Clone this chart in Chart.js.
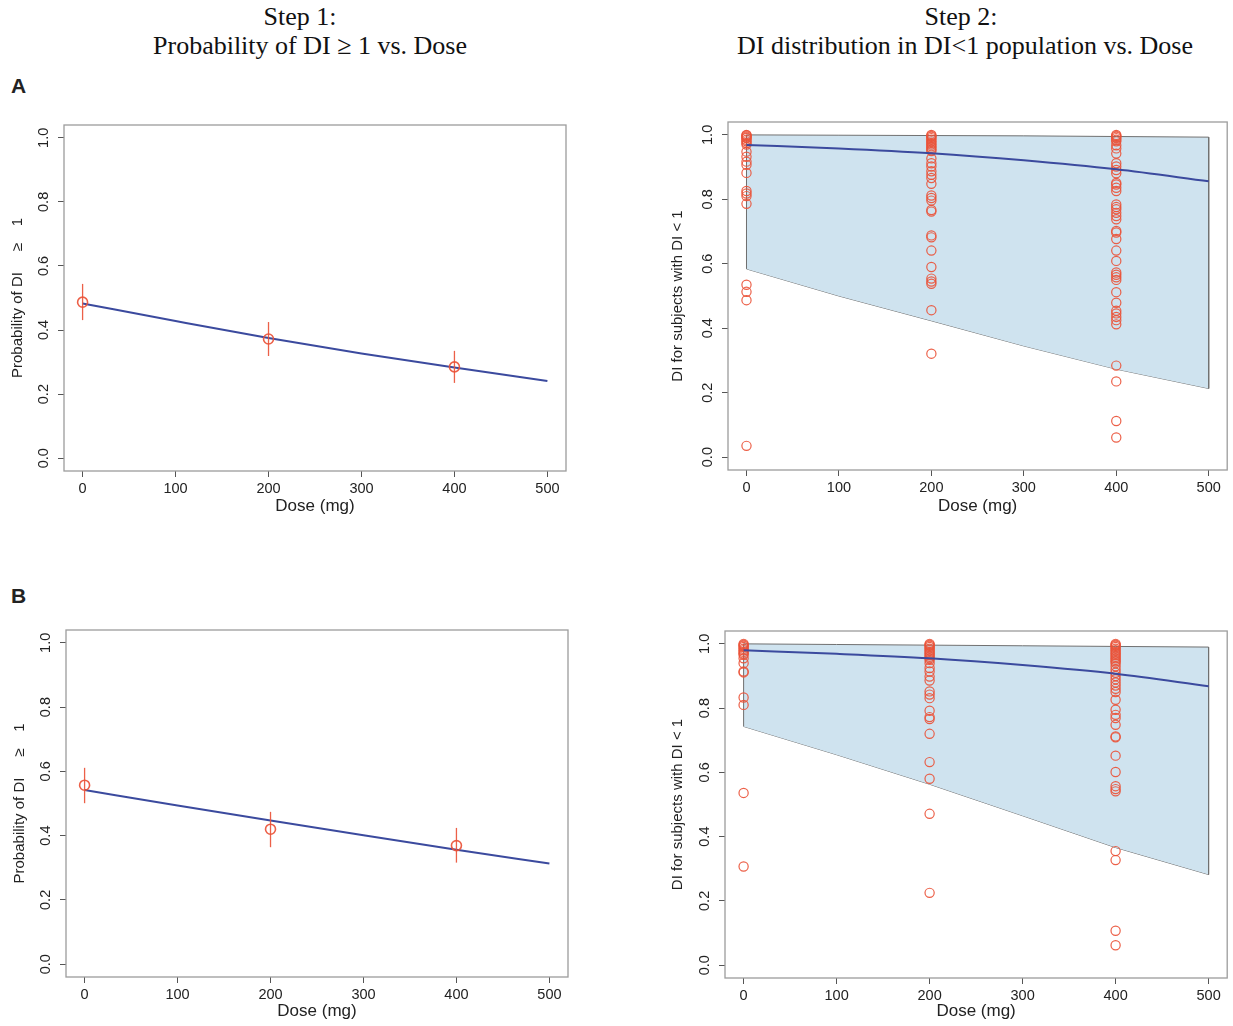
<!DOCTYPE html>
<html>
<head>
<meta charset="utf-8">
<script src="https://cdn.jsdelivr.net/npm/chart.js@4/dist/chart.umd.min.js"></script>
<style>
body { margin: 0; background: #fff; width: 1233px; height: 1026px; position: relative; overflow: hidden; }
.panel { position: absolute; }
.ttl { position: absolute; font-family: 'Liberation Serif', 'Times New Roman', serif; font-size: 26px; color: #111;
       white-space: nowrap; transform: translateX(-50%); line-height: 30px; }
.lab { position: absolute; font-family: 'Liberation Sans', Arial, sans-serif; font-weight: bold; font-size: 21px; color: #222; }
</style>
</head>
<body>
<div class="ttl" style="left:300px;top:2px">Step 1:</div>
<div class="ttl" style="left:310px;top:31px">Probability of DI ≥ 1 vs. Dose</div>
<div class="ttl" style="left:961px;top:2px">Step 2:</div>
<div class="ttl" style="left:965px;top:31px">DI distribution in DI&lt;1 population vs. Dose</div>
<div class="lab" style="left:11px;top:74px">A</div>
<div class="lab" style="left:11px;top:584px">B</div>

<div class="panel" style="left:0px;top:110px"><canvas id="stepA1" width="590" height="410"></canvas></div>
<div class="panel" style="left:660px;top:110px"><canvas id="stepA2" width="573" height="410"></canvas></div>
<div class="panel" style="left:0px;top:615px"><canvas id="stepB1" width="590" height="410"></canvas></div>
<div class="panel" style="left:660px;top:615px"><canvas id="stepB2" width="573" height="410"></canvas></div>

<script>
// ---- datos ----
const doseTicks = [0, 100, 200, 300, 400, 500];
const yTicks = [0, 0.2, 0.4, 0.6, 0.8, 1.0];
const doses = [0, 200, 400];
const curveDoses = [0, 100, 200, 300, 400, 500];

// Panel A, step 1
const probA = [0.487, 0.372, 0.285];
const probLoA = [0.431, 0.319, 0.235];
const probHiA = [0.544, 0.425, 0.335];
const fitA = [0.483, 0.428, 0.375, 0.327, 0.283, 0.241];

// Panel B, step 1
const probB = [0.557, 0.420, 0.369];
const probLoB = [0.501, 0.364, 0.316];
const probHiB = [0.611, 0.474, 0.424];
const fitB = [0.542, 0.494, 0.447, 0.401, 0.356, 0.313];

// Panel A, step 2
const bandUpA = [1.0, 0.999, 0.998, 0.997, 0.995, 0.993];
const bandLoA = [0.584, 0.500, 0.423, 0.345, 0.273, 0.213];
const midA = [0.969, 0.958, 0.943, 0.921, 0.893, 0.856];
const diA0 = [1.0, 0.998, 0.995, 0.992, 0.99, 0.985, 0.98, 0.975, 0.97, 0.948, 0.932, 0.917, 0.907, 0.882,
              0.826, 0.818, 0.810, 0.786, 0.535, 0.513, 0.487, 0.035];
const diA200 = [1.0, 0.997, 0.994, 0.99, 0.985, 0.98, 0.975, 0.97, 0.965, 0.96, 0.955, 0.95, 0.927, 0.912,
                0.902, 0.887, 0.876, 0.866, 0.848, 0.812, 0.804, 0.796, 0.767, 0.762, 0.688, 0.682, 0.641,
                0.590, 0.554, 0.545, 0.538, 0.456, 0.321];
const diA400 = [1.0, 0.997, 0.994, 0.99, 0.985, 0.98, 0.968, 0.958, 0.942, 0.912, 0.902, 0.891, 0.881, 0.851,
                0.846, 0.836, 0.826, 0.784, 0.776, 0.769, 0.758, 0.748, 0.738, 0.702, 0.697, 0.677, 0.641,
                0.609, 0.573, 0.566, 0.558, 0.550, 0.512, 0.479, 0.454, 0.446, 0.435, 0.425, 0.412, 0.284,
                0.235, 0.112, 0.061];

// Panel B, step 2
const bandUpB = [1.0, 0.998, 0.996, 0.994, 0.992, 0.990];
const bandLoB = [0.743, 0.655, 0.563, 0.465, 0.366, 0.282];
const midB = [0.980, 0.969, 0.955, 0.934, 0.907, 0.868];
const diB0 = [1.0, 0.997, 0.994, 0.99, 0.985, 0.98, 0.975, 0.97, 0.966, 0.955, 0.94, 0.914, 0.911, 0.833,
              0.810, 0.536, 0.307];
const diB200 = [1.0, 0.997, 0.994, 0.99, 0.985, 0.98, 0.975, 0.97, 0.965, 0.96, 0.955, 0.95, 0.94, 0.925,
                0.914, 0.898, 0.886, 0.852, 0.842, 0.831, 0.792, 0.772, 0.766, 0.720, 0.632, 0.580, 0.471, 0.225];
const diB400 = [1.0, 0.997, 0.994, 0.99, 0.985, 0.98, 0.975, 0.97, 0.965, 0.96, 0.955, 0.95, 0.945, 0.94,
                0.93, 0.92, 0.91, 0.90, 0.89, 0.88, 0.87, 0.86, 0.85, 0.826, 0.795, 0.779, 0.769, 0.748,
                0.712, 0.709, 0.652, 0.601, 0.557, 0.548, 0.541, 0.355, 0.327, 0.107, 0.062];

// ---- estilos ----
const RED = 'rgba(234, 82, 56, 0.92)';
const BLUE = '#3b4a9e';
const BAND = 'rgb(207, 227, 239)';
const BAND_EDGE = '#707070';
const FONT = "'Liberation Sans', Arial, sans-serif";
const PROB_TITLE = 'Probability of DI     ≥    1';

Chart.defaults.font.family = FONT;
Chart.defaults.color = '#222';

const toXY = (xs, ys) => xs.map((x, i) => ({ x: x, y: ys[i] }));

// marco tipo R + etiquetas del eje y giradas
const framePlugin = {
    id: 'frame',
    afterDraw(chart) {
        const { ctx, chartArea: a, scales: { y } } = chart;
        ctx.save();
        ctx.strokeStyle = '#9c9c9c';
        ctx.lineWidth = 1.3;
        ctx.strokeRect(a.left, a.top, a.right - a.left, a.bottom - a.top);
        ctx.fillStyle = '#222';
        ctx.font = '14.5px ' + FONT;
        ctx.textAlign = 'center';
        ctx.textBaseline = 'middle';
        y.ticks.forEach(t => {
            const py = y.getPixelForValue(t.value);
            ctx.save();
            ctx.translate(a.left - 20, py);
            ctx.rotate(-Math.PI / 2);
            ctx.fillText(t.value.toFixed(1), 0, 0);
            ctx.restore();
        });
        ctx.restore();
    }
};

function makeChart(id, datasets, cfg) {
    return new Chart(document.getElementById(id), {
        type: 'scatter',
        data: { datasets: datasets },
        options: {
            responsive: false,
            animation: false,
            layout: { padding: { left: 0, top: cfg.padTop, right: cfg.padRight, bottom: 0 } },
            plugins: { legend: { display: false }, tooltip: { enabled: false } },
            scales: {
                x: {
                    type: 'linear', min: -20, max: 520,
                    afterBuildTicks: s => { s.ticks = doseTicks.map(v => ({ value: v })); },
                    afterFit: s => { s.height = cfg.xHeight; },
                    grid: { drawOnChartArea: false, tickLength: 6, color: '#555', lineWidth: 1 },
                    border: { display: false },
                    ticks: { font: { size: 14.5 }, padding: 3, maxRotation: 0, color: '#222' },
                    title: { display: true, text: 'Dose (mg)', font: { size: 17 }, color: '#222',
                             padding: { top: 0, bottom: 3 } }
                },
                y: {
                    type: 'linear', min: -0.04, max: 1.04,
                    afterBuildTicks: s => { s.ticks = yTicks.map(v => ({ value: v })); },
                    afterFit: s => { s.width = cfg.yWidth; },
                    grid: { drawOnChartArea: false, tickLength: 6, color: '#555', lineWidth: 1 },
                    border: { display: false },
                    ticks: { display: false },
                    title: { display: true, text: cfg.yTitle, font: { size: 15 }, color: '#222',
                             padding: { top: cfg.yTitlePad, bottom: 0 } }
                }
            }
        },
        plugins: [framePlugin]
    });
}

function step1Sets(prob, lo, hi, fit) {
    const sets = [{
        type: 'line', data: toXY(curveDoses, fit), borderColor: BLUE, borderWidth: 2,
        pointRadius: 0, cubicInterpolationMode: 'monotone', fill: false, order: 2
    }];
    doses.forEach((d, i) => {
        sets.push({
            type: 'line', data: [{ x: d, y: lo[i] }, { x: d, y: hi[i] }], borderColor: RED,
            borderWidth: 1.3, pointRadius: 0, fill: false, order: 1
        });
    });
    sets.push({
        data: toXY(doses, prob), pointRadius: 5, pointBorderWidth: 1.6, borderColor: RED,
        backgroundColor: 'rgba(0,0,0,0)', pointBackgroundColor: 'rgba(0,0,0,0)', order: 0
    });
    return sets;
}

function step2Sets(up, lo, mid, obs0, obs200, obs400) {
    const last = curveDoses.length - 1;
    const upperPath = [{ x: curveDoses[0], y: lo[0] }, ...toXY(curveDoses, up), { x: curveDoses[last], y: lo[last] }];
    const obs = [...obs0.map(v => ({ x: 0, y: v })), ...obs200.map(v => ({ x: 200, y: v })),
                 ...obs400.map(v => ({ x: 400, y: v }))];
    return [
        { type: 'line', data: upperPath, borderColor: BAND_EDGE, borderWidth: 1, backgroundColor: BAND,
          pointRadius: 0, fill: '+1', order: 3 },
        { type: 'line', data: toXY(curveDoses, lo), borderColor: BAND_EDGE, borderWidth: 1,
          pointRadius: 0, fill: false, order: 3 },
        { type: 'line', data: toXY(curveDoses, mid), borderColor: BLUE, borderWidth: 2,
          pointRadius: 0, cubicInterpolationMode: 'monotone', fill: false, order: 1 },
        { data: obs, pointRadius: 4.6, pointBorderWidth: 1.2, borderColor: RED,
          backgroundColor: 'rgba(0,0,0,0)', pointBackgroundColor: 'rgba(0,0,0,0)', order: 2 }
    ];
}

document.addEventListener('DOMContentLoaded', () => {
    makeChart('stepA1', step1Sets(probA, probLoA, probHiA, fitA),
        { padTop: 15, padRight: 24, xHeight: 49, yWidth: 64, yTitle: PROB_TITLE, yTitlePad: 9 });
    makeChart('stepB1', step1Sets(probB, probLoB, probHiB, fitB),
        { padTop: 15, padRight: 22, xHeight: 48, yWidth: 66, yTitle: PROB_TITLE, yTitlePad: 11 });
    makeChart('stepA2', step2Sets(bandUpA, bandLoA, midA, diA0, diA200, diA400),
        { padTop: 12, padRight: 2, xHeight: 50, yWidth: 68, yTitle: 'DI for subjects with DI < 1', yTitlePad: 9 });
    makeChart('stepB2', step2Sets(bandUpB, bandLoB, midB, diB0, diB200, diB400),
        { padTop: 16, padRight: 3, xHeight: 47, yWidth: 65, yTitle: 'DI for subjects with DI < 1', yTitlePad: 9 });
});
</script>
</body>
</html>
